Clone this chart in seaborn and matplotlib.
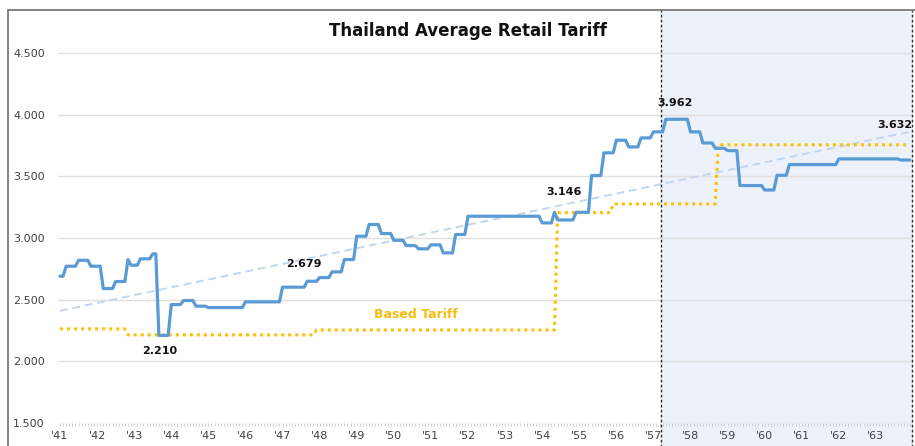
import numpy as np
import pandas as pd
import matplotlib
matplotlib.use("Agg")
import matplotlib.pyplot as plt
from matplotlib.lines import Line2D
import seaborn as sns

# Average retail tariff (Baht/kWh): step values and how many months each lasted,
# monthly from January of '41 to December of '63
avg_tariff_values = [2.690, 2.771, 2.819, 2.771, 2.590, 2.647, 2.825, 2.779, 2.831, 2.871,
                     2.210, 2.460, 2.493, 2.447, 2.436, 2.482, 2.601, 2.649, 2.679, 2.725,
                     2.825, 3.014, 3.109, 3.036, 2.981, 2.938, 2.912, 2.944, 2.879, 3.028,
                     3.176, 3.122, 3.208, 3.146, 3.208, 3.506, 3.690, 3.792, 3.738, 3.811,
                     3.860, 3.962, 3.860, 3.770, 3.727, 3.708, 3.425, 3.389, 3.508, 3.595,
                     3.641, 3.632]
avg_tariff_months = [2, 4, 4, 4, 4, 4, 1, 3, 4, 2,
                     4, 4, 4, 4, 12, 12, 8, 4, 4, 4,
                     4, 4, 4, 4, 4, 4, 4, 4, 4, 4,
                     24, 4, 1, 6, 5, 4, 4, 4, 4, 4,
                     4, 8, 4, 4, 4, 4, 8, 4, 4, 16,
                     20, 4]

# Base tariff steps
base_tariff_values = [2.263, 2.214, 2.254, 3.205, 3.276, 3.755]
base_tariff_months = [22, 61, 78, 18, 34, 63]

first_year = 41
year_labels = [f"'{y}" for y in range(41, 64)]
y_ticks = [1.5, 2.0, 2.5, 3.0, 3.5, 4.0, 4.5]

# Labelled points: (month index, series value)
labelled_points = [(33, 2.210), (84, 2.679), (163, 3.146), (199, 3.962), (275, 3.632)]
label_offsets_pt = [(-1.5, -11), (-11, 9.5), (0, 20), (0, 12), (-11, 25)]

forecast_start = 57.2
forecast_end = 64.0

avg = np.repeat(avg_tariff_values, avg_tariff_months)
base = np.repeat(base_tariff_values, base_tariff_months)
months = np.arange(len(avg))
df = pd.DataFrame({"year": first_year + months / 12.0, "avg": avg, "base": base})

sns.set_theme(style="white")
plt.rcParams["font.family"] = ["DejaVu Sans"]

W, H = 915, 446
fig = plt.figure(figsize=(W / 100, H / 100), dpi=100)
ax = fig.add_axes([58 / W, 23 / H, 855 / W, 413 / H])

ax.set_xlim(first_year - 2 / 37.1, forecast_end)
ax.set_ylim(1.5, 4.848)

# forecast band with dotted edges, running down behind the tick labels
ax.axvspan(forecast_start, forecast_end, ymin=-0.06, ymax=1.0, color="#edf2fa",
           zorder=0, clip_on=False, lw=0)
for xv in (forecast_start, forecast_end - 0.02):
    ax.axvline(xv, ymin=-0.06, ymax=1.0, color="#2b2b2b", lw=1.0,
               linestyle=(0, (2, 1.6)), clip_on=False, zorder=3)

ax.set_yticks(y_ticks)
ax.set_yticklabels([f"{v:.3f}" for v in y_ticks])
ax.yaxis.grid(True, color="#e0e0e0", lw=1.0)
ax.set_axisbelow(True)

ax.set_xticks(range(41, 64))
ax.set_xticklabels(year_labels)
ax.set_xticks(first_year + months / 12.0, minor=True)
for s in ax.spines.values():
    s.set_visible(False)
ax.tick_params(axis="y", length=0, pad=9.5, labelsize=8, labelcolor="#404040")
ax.tick_params(axis="x", which="both", bottom=True, length=2.5, width=0.6,
               color="#c8c8c8", pad=3.5, labelsize=8, labelcolor="#404040")

# trend line of the average tariff
sns.regplot(data=df, x="year", y="avg", scatter=False, ci=None, truncate=True, ax=ax,
            line_kws=dict(color="#c3d6ec", lw=1.4, linestyle=(0, (4, 2.5)), zorder=2))

sns.lineplot(data=df, x="year", y="base", ax=ax, color="#ffc000", lw=2.2,
             linestyle=(0, (1, 1.3)), zorder=3)
sns.lineplot(data=df, x="year", y="avg", ax=ax, color="#5b9bd5", lw=2.3, zorder=4)

ax.set_xlabel("")
ax.set_ylabel("")

for (m, v), off in zip(labelled_points, label_offsets_pt):
    ax.annotate(f"{v:.3f}", xy=(first_year + m / 12.0, v), xytext=off,
                textcoords="offset points", ha="center", va="center",
                fontsize=8, fontweight="bold", color="#111111",
                annotation_clip=False, zorder=5)

ax.text(50.6, 2.379, "Based Tariff", ha="center", va="center", fontsize=9,
        fontweight="bold", color="#f5bd12", zorder=5)

ax.text(0.4795, 0.937, "Thailand Average Retail Tariff", transform=ax.transAxes,
        ha="center", va="baseline", fontsize=12, fontweight="bold", color="#111111")

# chart border
fx = 8 / W
fy = 1 - 10 / H
fig.add_artist(Line2D([fx, fx], [0, fy], color="#7a7a7a", lw=1.3))
fig.add_artist(Line2D([fx, 1.0], [fy, fy], color="#7a7a7a", lw=1.3))

fig.savefig("out.png", dpi=100)
